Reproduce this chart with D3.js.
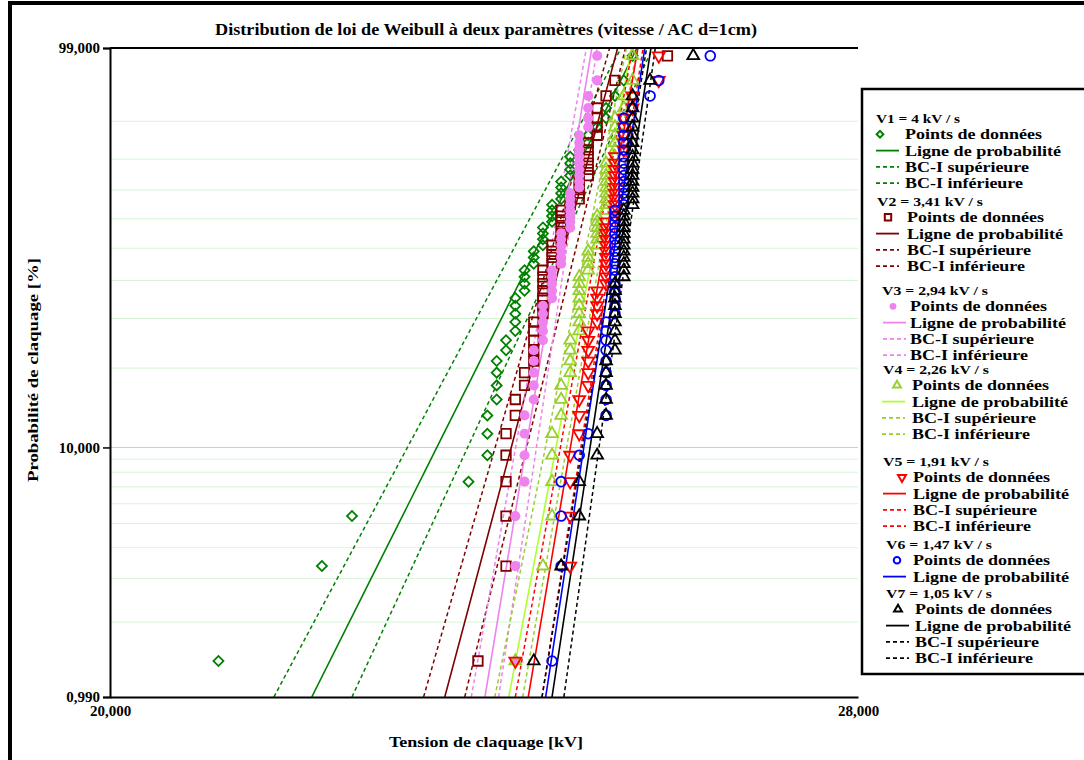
<!DOCTYPE html>
<html lang="fr">
<head>
<meta charset="utf-8">
<title>Distribution de Weibull</title>
<script src="https://cdn.jsdelivr.net/npm/d3@7/dist/d3.min.js"></script>
<style>
html,body{margin:0;padding:0;background:#fff;}
svg{display:block;}
text{font-family:"Liberation Serif","Times New Roman",serif;font-weight:bold;fill:#000;}
</style>
</head>
<body>
<svg id="chart" width="1084" height="760"></svg>
<script>
// Tensions de claquage (kV) classées par rang, 50 essais par vitesse de montée
const tensionV1 = [21.0, 22.0, 22.3, 23.5, 23.7, 23.7, 23.7, 23.8, 23.8, 23.8,
  23.8, 23.9, 23.9, 24.0, 24.0, 24.0, 24.0, 24.0, 24.1, 24.1,
  24.1, 24.1, 24.2, 24.2, 24.2, 24.3, 24.3, 24.3, 24.3, 24.4,
  24.4, 24.4, 24.4, 24.5, 24.5, 24.5, 24.5, 24.6, 24.6, 24.6,
  24.6, 24.7, 24.8, 24.8, 24.9, 25.0, 25.0, 25.1, 25.2, 25.3];
const tensionV2 = [23.6, 23.9, 23.9, 23.9, 23.9, 23.9, 24.0, 24.0, 24.1, 24.1,
  24.2, 24.2, 24.2, 24.2, 24.2, 24.3, 24.3, 24.3, 24.3, 24.3,
  24.3, 24.3, 24.4, 24.4, 24.4, 24.4, 24.5, 24.5, 24.5, 24.5,
  24.5, 24.5, 24.6, 24.7, 24.7, 24.7, 24.7, 24.8, 24.8, 24.8,
  24.8, 24.8, 24.8, 24.9, 24.9, 24.9, 24.9, 25.0, 25.1, 25.7];
const tensionV3 = [24.0, 24.0, 24.0, 24.1, 24.1, 24.1, 24.1, 24.2, 24.2, 24.2,
  24.2, 24.2, 24.3, 24.3, 24.3, 24.3, 24.3, 24.4, 24.4, 24.4,
  24.4, 24.4, 24.5, 24.5, 24.5, 24.5, 24.5, 24.5, 24.6, 24.6,
  24.6, 24.6, 24.6, 24.6, 24.6, 24.7, 24.7, 24.7, 24.7, 24.7,
  24.7, 24.7, 24.7, 24.7, 24.8, 24.8, 24.8, 24.8, 24.9, 24.9];
const tensionV4 = [24.0, 24.3, 24.4, 24.4, 24.4, 24.4, 24.5, 24.5, 24.5, 24.6,
  24.6, 24.6, 24.6, 24.7, 24.7, 24.7, 24.7, 24.7, 24.7, 24.7,
  24.7, 24.8, 24.8, 24.8, 24.8, 24.9, 24.9, 24.9, 24.9, 24.9,
  24.9, 25.0, 25.0, 25.0, 25.0, 25.0, 25.0, 25.0, 25.0, 25.0,
  25.1, 25.1, 25.1, 25.1, 25.1, 25.1, 25.2, 25.2, 25.3, 25.3];
const tensionV5 = [24.0, 24.6, 24.6, 24.6, 24.6, 24.7, 24.7, 24.7, 24.8, 24.8,
  24.8, 24.8, 24.8, 24.8, 24.9, 24.9, 24.9, 24.9, 24.9, 25.0,
  25.0, 25.0, 25.0, 25.0, 25.0, 25.0, 25.0, 25.0, 25.0, 25.0,
  25.1, 25.1, 25.1, 25.1, 25.1, 25.1, 25.1, 25.1, 25.1, 25.1,
  25.1, 25.2, 25.2, 25.2, 25.2, 25.2, 25.3, 25.3, 25.6, 25.6];
const tensionV6 = [24.4, 24.5, 24.5, 24.5, 24.7, 24.8, 25.0, 25.0, 25.0, 25.0,
  25.0, 25.0, 25.0, 25.0, 25.0, 25.1, 25.1, 25.1, 25.1, 25.1,
  25.1, 25.1, 25.1, 25.1, 25.1, 25.1, 25.1, 25.1, 25.1, 25.1,
  25.1, 25.1, 25.2, 25.2, 25.2, 25.2, 25.2, 25.2, 25.2, 25.2,
  25.2, 25.2, 25.2, 25.2, 25.2, 25.2, 25.3, 25.5, 25.6, 26.2];
const tensionV7 = [24.2, 24.5, 24.7, 24.7, 24.9, 24.9, 25.0, 25.0, 25.0, 25.0,
  25.0, 25.1, 25.1, 25.1, 25.1, 25.1, 25.1, 25.1, 25.1, 25.1,
  25.2, 25.2, 25.2, 25.2, 25.2, 25.2, 25.2, 25.2, 25.2, 25.2,
  25.2, 25.2, 25.3, 25.3, 25.3, 25.3, 25.3, 25.3, 25.3, 25.3,
  25.3, 25.3, 25.3, 25.3, 25.3, 25.3, 25.3, 25.3, 25.5, 26.0];

const seriesLabels = ["V1 = 4 kV / s", "V2 = 3,41 kV / s", "V3 = 2,94 kV / s",
  "V4 = 2,26 kV / s", "V5 = 1,91 kV / s", "V6 = 1,47 kV / s", "V7 = 1,05 kV / s"];

// Paramètres de Weibull des lignes de probabilité : forme β et échelle η (kV)
const formeBeta = [41.95, 78.92, 127.7, 111.0, 124.5, 137.6, 137.9];
const echelleEta = [24.444, 24.649, 24.545, 24.944, 25.051, 25.159, 25.229];

// Bornes de confiance : tension (kV) aux probabilités extrêmes [0,99 %, 99 %]
const bcSuperieure = [[21.53, 25.17], [23.03, 25.04], [23.53, 24.78], [23.78, 25.23],
  [24.00, 25.30], null, [24.29, 25.46]];
const bcInferieure = [[22.30, 25.53], [23.46, 25.22], [23.82, 24.90], [24.08, 25.35],
  [24.29, 25.42], null, [24.53, 25.56]];

const probTicks = [0.99, 10, 99];          // %
const tensionTicks = [20, 28];             // kV
const gridProbs = [2, 3, 4, 5, 6, 7, 8, 9, 20, 30, 40, 50, 60, 70, 80, 90];
const refProb = 10;

// ---------------------------------------------------------------------------
const tensions = [tensionV1, tensionV2, tensionV3, tensionV4, tensionV5, tensionV6, tensionV7];
const markColors = ["#008000", "#800000", "#ee82ee", "#9acd32", "#ff0000", "#0000ff", "#000000"];
const lineColors = ["#008000", "#800000", "#ee82ee", "#adff2f", "#ff0000", "#0000ff", "#000000"];
const dashColors = ["#008000", "#800000", "#ee82ee", "#9acd32", "#ff0000", "#0000ff", "#000000"];
const markTypes = ["diamond", "square", "dot", "triangle", "triangleDown", "circle", "triangle"];

const svg = d3.select("#chart");
const frFormat = d3.formatLocale({decimal: ",", thousands: " ", grouping: [3], currency: ["", " €"]}).format(".3f");

const plot = {left: 110, right: 858, top: 48, bottom: 697};
const weib = p => Math.log(-Math.log(1 - p));   // échelle de probabilité de Weibull
const pMin = probTicks[0] / 100, pMax = probTicks[probTicks.length - 1] / 100;

const x = d3.scaleLog().domain(tensionTicks).range([plot.left, plot.right]);
const y = d3.scaleLinear().domain([weib(pMin), weib(pMax)]).range([plot.bottom, plot.top]);

// Cadre général
svg.append("rect").attr("x", 10).attr("y", 3).attr("width", 1100).attr("height", 800)
  .attr("fill", "none").attr("stroke", "#000").attr("stroke-width", 4);

function label(parent, s, px, py, size, width, anchor) {
  const t = parent.append("text").attr("x", px).attr("y", py)
    .attr("font-size", size).attr("text-anchor", anchor || "start").text(s);
  if (width) t.attr("textLength", width).attr("lengthAdjust", "spacingAndGlyphs");
  return t;
}

// Titre
label(svg, "Distribution de loi de Weibull à deux paramètres (vitesse / AC d=1cm)", 486, 35, 16.5, 542, "middle");

// Grille
const grid = svg.append("g");
grid.selectAll("line.g").data(gridProbs).join("line")
  .attr("x1", plot.left).attr("x2", plot.right)
  .attr("y1", d => y(weib(d / 100))).attr("y2", d => y(weib(d / 100)))
  .attr("stroke", "#d6f5d6").attr("stroke-width", 1);
grid.append("line")
  .attr("x1", plot.left).attr("x2", plot.right)
  .attr("y1", y(weib(refProb / 100))).attr("y2", y(weib(refProb / 100)))
  .attr("stroke", "#ffb4b4").attr("stroke-width", 1);

// Zone de tracé avec découpe
svg.append("clipPath").attr("id", "zone").append("rect")
  .attr("x", plot.left).attr("y", plot.top)
  .attr("width", plot.right - plot.left).attr("height", plot.bottom - plot.top);
const zone = svg.append("g").attr("clip-path", "url(#zone)");

const probSteps = d3.range(0, 41).map(i => pMin + (pMax - pMin) * i / 40);
const lineGen = d3.line().x(d => x(d[0])).y(d => y(weib(d[1])));

// Lignes de probabilité et bornes de confiance
tensions.forEach((vals, s) => {
  const g = zone.append("g");
  [bcSuperieure[s], bcInferieure[s]].forEach(b => {
    if (!b) return;
    g.append("path").attr("d", lineGen([[b[0], pMin], [b[1], pMax]]))
      .attr("fill", "none").attr("stroke", dashColors[s]).attr("stroke-width", 1.5)
      .attr("stroke-dasharray", "4,3");
  });
  const beta = formeBeta[s], eta = echelleEta[s];
  const pts = probSteps.map(p => [eta * Math.pow(-Math.log(1 - p), 1 / beta), p]);
  g.append("path").attr("d", lineGen(pts))
    .attr("fill", "none").attr("stroke", lineColors[s]).attr("stroke-width", 1.6);
});

// Symboles des points
function markPath(type, size) {
  const sym = {diamond: d3.symbolSquare, square: d3.symbolSquare, dot: d3.symbolCircle,
    circle: d3.symbolCircle, triangle: d3.symbolTriangle, triangleDown: d3.symbolTriangle}[type];
  return d3.symbol(sym, size)();
}
function markTransform(type, px, py) {
  if (type === "diamond") return `translate(${px},${py}) rotate(45)`;
  if (type === "triangleDown") return `translate(${px},${py}) rotate(180)`;
  return `translate(${px},${py})`;
}
const markSize = {diamond: 50, square: 90, dot: 80, circle: 75, triangle: 60, triangleDown: 62};

tensions.forEach((vals, s) => {
  const n = vals.length;
  const type = markTypes[s];
  const g = svg.append("g");
  g.selectAll("path").data(vals).join("path")
    .attr("d", markPath(type, markSize[type]))
    .attr("transform", (v, i) => markTransform(type, x(v), y(weib((i + 1 - 0.3) / (n + 0.4)))))
    .attr("fill", type === "dot" ? markColors[s] : "none")
    .attr("stroke", markColors[s]).attr("stroke-width", type === "dot" ? 0 : 1.8);
});

// Axes
const yAxis = d3.axisLeft(y).tickValues(probTicks.map(p => weib(p / 100)))
  .tickFormat((d, i) => frFormat(probTicks[i])).tickSize(7).tickPadding(3);
const gy = svg.append("g").attr("transform", `translate(${plot.left},0)`).call(yAxis);
gy.attr("font-size", null).attr("font-family", null);
gy.select(".domain").attr("stroke-width", 2);
gy.selectAll(".tick line").attr("stroke-width", 1.5);
gy.selectAll(".tick text").style("font-size", "15px");

const xAxis = d3.axisBottom(x).tickValues(tensionTicks).tickFormat(frFormat).tickSize(0).tickPadding(8);
const gx = svg.append("g").attr("transform", `translate(0,${plot.bottom})`).call(xAxis);
gx.attr("font-size", null).attr("font-family", null);
gx.select(".domain").attr("stroke-width", 2);
gx.selectAll(".tick text").style("font-size", "15px");

svg.append("line").attr("x1", plot.left).attr("x2", plot.right)
  .attr("y1", plot.top).attr("y2", plot.top).attr("stroke", "#000").attr("stroke-width", 2);

label(svg, "Tension de claquage [kV]", 486, 747, 15.5, 194, "middle");
label(svg, "Probabilité de claquage [%]", 0, 0, 15.5, 224, "middle")
  .attr("transform", "translate(38,370) rotate(-90)");

// Légende
const leg = svg.append("g");
leg.append("rect").attr("x", 862).attr("y", 89).attr("width", 260).attr("height", 585)
  .attr("fill", "#fff").attr("stroke", "#000").attr("stroke-width", 2.5);

const headY = [118, 201, 290, 369, 461, 544, 593];
const headX = [876, 877, 882, 883, 883, 886, 886];
const markX = [880, 888, 893, 897, 902, 897, 898];
const textX = [905, 907, 910, 912, 913, 913, 915];
const lineX = [876, 876, 883, 882, 883, 883, 886];
const step = 16.3;

seriesLabels.forEach((name, s) => {
  const g = leg.append("g");
  label(g, name, headX[s], headY[s] + 4.5, 13, name.length > 14 ? 106 : 84);
  let row = 1;
  const rowY = () => headY[s] + step * row;
  const type = markTypes[s];
  g.append("path").attr("d", markPath(type, markSize[type] * 0.45))
    .attr("transform", markTransform(type, markX[s], rowY()))
    .attr("fill", type === "dot" ? markColors[s] : "none")
    .attr("stroke", markColors[s]).attr("stroke-width", type === "dot" ? 0 : 2);
  label(g, "Points de données", textX[s], rowY() + 4.9, 14.5, 137);
  row++;
  g.append("line").attr("x1", lineX[s]).attr("x2", lineX[s] + 23)
    .attr("y1", rowY()).attr("y2", rowY()).attr("stroke", lineColors[s]).attr("stroke-width", 1.8);
  label(g, "Ligne de probabilité", textX[s], rowY() + 4.9, 14.5, 156);
  row++;
  if (bcSuperieure[s]) {
    [["BC-I supérieure", 124], ["BC-I inférieure", 118]].forEach(([t, w]) => {
      g.append("line").attr("x1", lineX[s]).attr("x2", lineX[s] + 23)
        .attr("y1", rowY()).attr("y2", rowY()).attr("stroke", dashColors[s])
        .attr("stroke-width", 1.8).attr("stroke-dasharray", "4,3");
      label(g, t, textX[s], rowY() + 4.9, 14.5, w);
      row++;
    });
  }
});
</script>
</body>
</html>
